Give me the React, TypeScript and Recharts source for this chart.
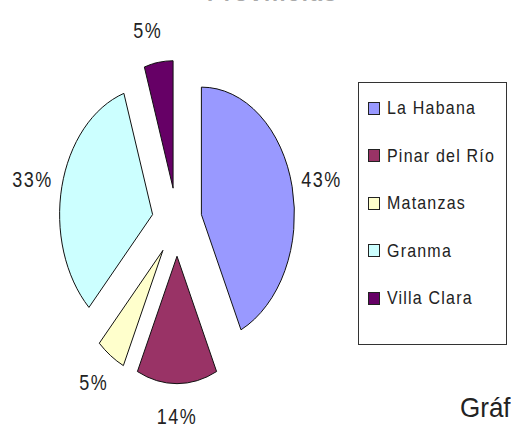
import { PieChart, Pie, Cell, Sector, Legend } from 'recharts';

const provinces = ['La Habana', 'Pinar del Río', 'Matanzas', 'Granma', 'Villa Clara'];
const shares = [43, 14, 5, 33, 5];
const sliceColors = ['#9999FF', '#993366', '#FFFFCC', '#CCFFFF', '#660066'];

const data = provinces.map((name, i) => ({ name, value: shares[i] }));

const RAD = Math.PI / 180;
const STRETCH = 1.37; // old Excel pie squashed into an ellipse
const EXPLODE = 25;
const FONT = 'Liberation Sans, Arial, sans-serif';

function ExplodedSlice(props: any) {
  const { cx, cy, midAngle, innerRadius, outerRadius, startAngle, endAngle, fill } = props;
  const ox = EXPLODE * Math.cos(-midAngle * RAD);
  const oy = EXPLODE * Math.sin(-midAngle * RAD);
  return (
    <g transform={`translate(${cx},${cy}) scale(1,${STRETCH}) translate(${-cx},${-cy})`}>
      <Sector
        cx={cx + ox}
        cy={cy + oy}
        innerRadius={innerRadius}
        outerRadius={outerRadius}
        startAngle={startAngle}
        endAngle={endAngle}
        fill={fill}
        stroke="#111"
        strokeWidth={1}
        vectorEffect="non-scaling-stroke"
      />
    </g>
  );
}

function PctLabel(props: any) {
  const { cx, cy, midAngle, value } = props;
  const dx = Math.cos(-midAngle * RAD);
  const dy = Math.sin(-midAngle * RAD);
  const x = cx + dx * (127 + 21) - (dy < -0.9 ? 6 : 0);
  const y = cy + dy * (186 + 8);
  return (
    <g transform={`translate(${x},${y}) scale(1,1.2)`}>
      <text x={0} y={0} textAnchor="middle" dominantBaseline="central" fill="#222" fontSize={18} letterSpacing={1.5} fontFamily={FONT}>
        {`${value}%`}
      </text>
    </g>
  );
}

function LegendBox() {
  return (
    <div style={{ border: '1px solid #333', width: 149, height: 263, boxSizing: 'border-box', position: 'relative', fontFamily: FONT, fontSize: 16, color: '#222' }}>
      {provinces.map((p, i) => (
        <div key={p} style={{ position: 'absolute', left: 0, top: 25 + i * 47.5 - 10, height: 20, display: 'flex', alignItems: 'center' }}>
          <span style={{ display: 'inline-block', width: 10, height: 11, border: '1px solid #222', background: sliceColors[i], marginLeft: 9, marginRight: 7 }} />
          <span style={{ display: 'inline-block', transform: 'scaleY(1.2)', letterSpacing: 1.2, whiteSpace: 'nowrap' }}>{p}</span>
        </div>
      ))}
    </div>
  );
}

export default function App() {
  return (
    <div style={{ position: 'absolute', left: 0, top: 0, width: 511, height: 428, overflow: 'hidden', background: '#fff' }}>
      <div style={{ position: 'absolute', left: 207, top: -19, fontFamily: FONT, fontWeight: 'bold', fontSize: 22, letterSpacing: 2, color: '#aaa' }}>
        Provincias
      </div>
      <PieChart width={511} height={428} margin={{ top: 0, right: 0, bottom: 0, left: 0 }}>
        <Pie
          data={data}
          dataKey="value"
          nameKey="name"
          cx={177}
          cy={222}
          outerRadius={93}
          startAngle={90}
          endAngle={-270}
          shape={ExplodedSlice}
          label={PctLabel}
          labelLine={false}
          isAnimationActive={false}
        >
          {data.map((d, i) => (
            <Cell key={d.name} fill={sliceColors[i]} />
          ))}
        </Pie>
        <Legend content={<LegendBox />} wrapperStyle={{ position: 'absolute', left: 358, top: 82, width: 149 }} />
      </PieChart>
      <div style={{ position: 'absolute', left: 460, top: 394, fontFamily: FONT, fontSize: 26, lineHeight: '26px', color: '#222', whiteSpace: 'nowrap', transform: 'scaleY(1.05)', transformOrigin: 'left top' }}>
        Gráfico 1
      </div>
    </div>
  );
}
